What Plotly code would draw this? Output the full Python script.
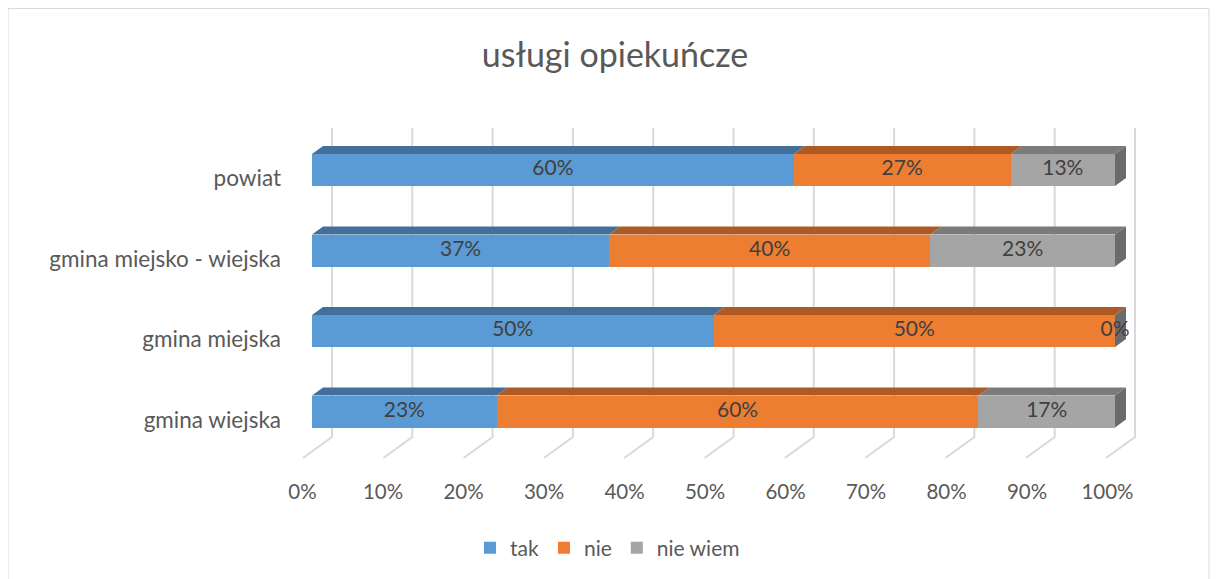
import plotly.graph_objects as go

# ---- data ----
categories = ["gmina wiejska", "gmina miejska", "gmina miejsko - wiejska", "powiat"]
series_names = ["tak", "nie", "nie wiem"]
tak = [0.23, 0.50, 0.37, 0.60]
nie = [0.60, 0.50, 0.40, 0.27]
nie_wiem = [0.17, 0.00, 0.23, 0.13]
x_ticks = [0, 0.1, 0.2, 0.3, 0.4, 0.5, 0.6, 0.7, 0.8, 0.9, 1.0]
title_text = "usługi opiekuńcze"

# ---- styles ----
front_colors = ["#5B9BD5", "#ED7D31", "#A5A5A5"]
top_colors = ["#43709B", "#AF5A22", "#7B7B7B"]
side_colors = ["#3C6690", "#9E521F", "#6B6B6B"]
FONT = "Lato"
grid_color = "#D9D9D9"
txt_color = "#595959"

OFF = 8                   # page offset of the figure in the screenshot
W, H = 1202, 571
def sx(p):  # screenshot x -> figure px
    return p - OFF
def sy(p):
    return p - OFF

L, R = sx(290), sx(1145)          # plot area px
T, B = sy(120), sy(465)
x0px, px_per_unit = sx(312), 803.0
xmin = -(x0px - L) / px_per_unit
xmax = (R - x0px) / px_per_unit
ycat_top_px, y_px_per_unit = sy(170.0), 80.5
ymax = 3 + (ycat_top_px - T) / y_px_per_unit
ymin = 3 - (B - ycat_top_px) / y_px_per_unit
lab_off = 8.5 / y_px_per_unit      # category labels sit a bit lower (3D perspective)

bar_w = 32 / y_px_per_unit
dx = 11 / px_per_unit
dy = 8 / y_px_per_unit

ypos = list(range(len(categories)))
series = [tak, nie, nie_wiem]

fig = go.Figure()
for name, vals, col in zip(series_names, series, front_colors):
    fig.add_trace(go.Bar(
        y=ypos, x=vals, name=name, orientation="h",
        marker=dict(color=col, line=dict(width=0)), width=bar_w,
        hoverinfo="skip",
    ))

# data labels
lab_x, lab_y, lab_t = [], [], []
for i in ypos:
    start = 0
    for vals in series:
        v = vals[i]
        lab_x.append(start + v / 2)
        lab_y.append(i)
        lab_t.append(f"{round(v * 100)}%")
        start += v
fig.add_trace(go.Scatter(
    x=lab_x, y=lab_y, text=lab_t, mode="text", showlegend=False,
    textfont=dict(family=FONT, size=21, color="#404040"), hoverinfo="skip",
))

# dummy traces for the label axes
fig.add_trace(go.Scatter(x=x_ticks, y=[0] * len(x_ticks), xaxis="x2", mode="markers",
                         marker=dict(opacity=0, size=1), showlegend=False, hoverinfo="skip"))
fig.add_trace(go.Scatter(x=[0] * len(ypos), y=ypos, yaxis="y2", mode="markers",
                         marker=dict(opacity=0, size=1), showlegend=False, hoverinfo="skip"))

shapes = []
# grid lines (back wall + floor diagonal)
gx = 20 / px_per_unit
g_top = 3 + (ycat_top_px - sy(128)) / y_px_per_unit
g_bot = 0 - (sy(437) - sy(411.5)) / y_px_per_unit
fx = -9 / px_per_unit
f_bot = 0 - (sy(458) - sy(411.5)) / y_px_per_unit
for t in x_ticks:
    shapes.append(dict(type="path", layer="below",
                       path=f"M {t+gx} {g_top} L {t+gx} {g_bot} L {t+fx} {f_bot}",
                       line=dict(color=grid_color, width=2)))

# top faces and end side faces
for i in ypos:
    yt = i + bar_w / 2
    yb = i - bar_w / 2
    start = 0
    for k, vals in enumerate(series):
        v = vals[i]
        a, b = start, start + v
        if v > 0:
            shapes.append(dict(type="path", layer="below",
                               path=f"M {a} {yt} L {a+dx} {yt+dy} L {b+dx} {yt+dy} L {b} {yt} Z",
                               fillcolor=top_colors[k], line=dict(width=0)))
        start = b
    end = start
    shapes.append(dict(type="path", layer="below",
                       path=f"M {end} {yb} L {end} {yt} L {end+dx} {yt+dy} L {end+dx} {yb+dy} Z",
                       fillcolor=side_colors[2], line=dict(width=0)))

# chart border
pw, ph = R - L, B - T
shapes.append(dict(type="rect", xref="paper", yref="paper",
                   x0=(0 - L) / pw, x1=(W - 1 - L) / pw,
                   y0=(B - H - 10) / ph, y1=(B - 0.5) / ph,
                   line=dict(color="#D9D9D9", width=1), fillcolor="rgba(0,0,0,0)"))

tick0_px, tick_scale = sx(302.5), 805.0

fig.update_layout(
    width=W, height=H,
    margin=dict(l=L, r=W - R, t=T, b=H - B),
    paper_bgcolor="white", plot_bgcolor="white",
    barmode="stack", bargap=0,
    shapes=shapes,
    title=dict(text=title_text, x=sx(615) / W, xref="container", xanchor="center",
               y=1 - sy(55) / H, yref="container", yanchor="middle",
               font=dict(family=FONT, size=34, color=txt_color)),
    xaxis=dict(range=[xmin, xmax], showticklabels=False, showgrid=False,
               zeroline=False, showline=False, fixedrange=True),
    xaxis2=dict(overlaying="x", anchor="y", side="bottom",
                range=[-(tick0_px - L) / tick_scale, (R - tick0_px) / tick_scale],
                tickvals=x_ticks, tickformat=".0%", showgrid=False, zeroline=False,
                showline=False, ticks="", ticklabelstandoff=12,
                tickfont=dict(family=FONT, size=20.5, color=txt_color)),
    yaxis=dict(range=[ymin, ymax], showticklabels=False,
               showgrid=False, zeroline=False, showline=False, ticks=""),
    yaxis2=dict(overlaying="y", anchor="x", side="left",
                range=[ymin + lab_off, ymax + lab_off], tickvals=ypos, ticktext=categories,
                showgrid=False, zeroline=False, showline=False, ticks="",
                ticklabelstandoff=8,
                tickfont=dict(family=FONT, size=22.5, color=txt_color)),
    legend=dict(orientation="h", x=sx(470) / W, xref="container", xanchor="left",
                y=1 - sy(548) / H, yref="container", yanchor="middle",
                font=dict(family=FONT, size=21, color=txt_color),
                itemwidth=30, traceorder="normal"),
    font=dict(family=FONT),
)

fig.write_html("out.html")
